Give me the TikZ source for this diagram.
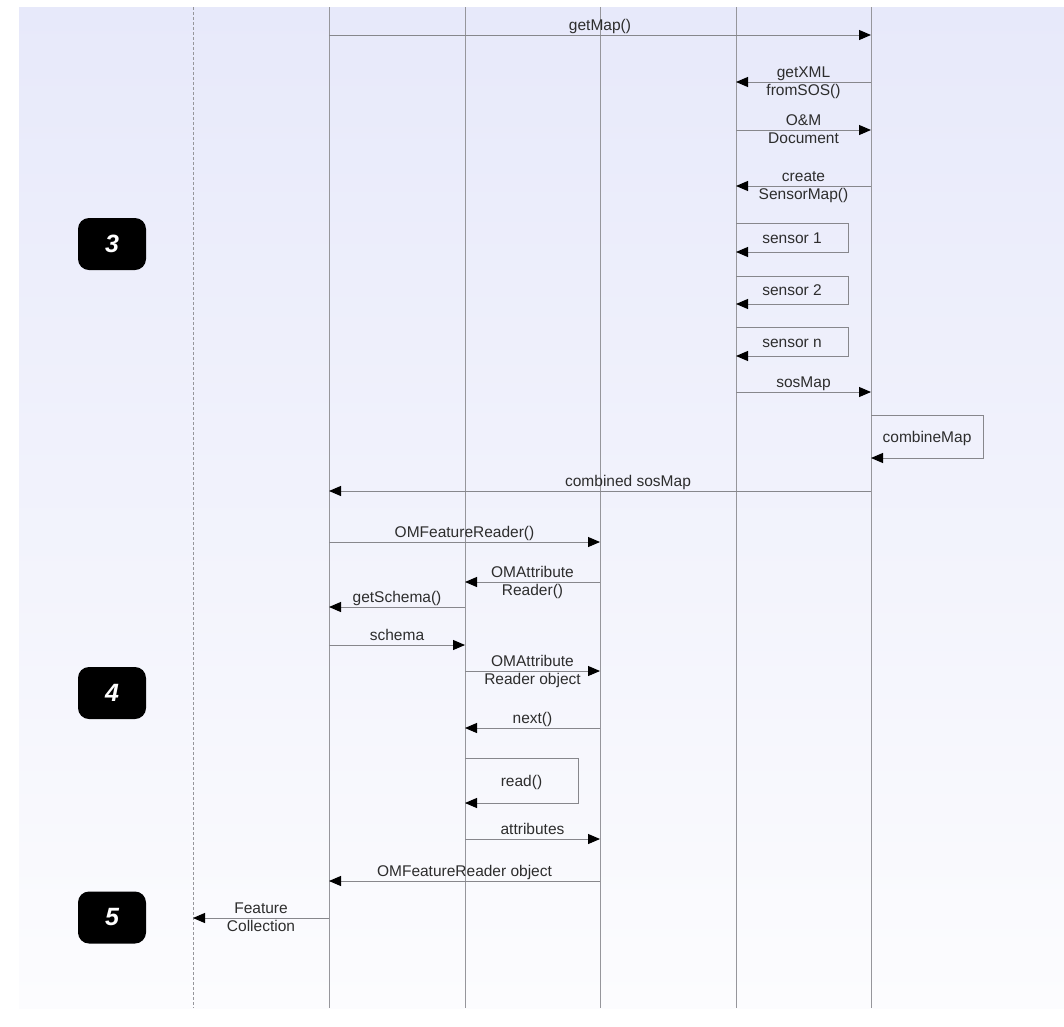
\documentclass[tikz,border=0pt]{standalone}
\usepackage{fontspec}
\setmainfont{Liberation Sans}
\usetikzlibrary{arrows.meta}
\definecolor{bgtop}{RGB}{231,233,250}
\definecolor{bgbot}{RGB}{252,252,254}
\definecolor{linegray}{RGB}{135,135,140}
\definecolor{lifegray}{RGB}{150,150,155}
\definecolor{txt}{RGB}{45,45,45}
\tikzset{
  lifeline/.style={draw=lifegray, line width=1pt},
  actorline/.style={draw=lifegray, line width=0.9pt, dash pattern=on 3pt off 2pt},
  msg/.style={draw=linegray, line width=1pt, -{Triangle[length=12pt,width=10pt,color=black]}},
  lbl/.style={font=\fontsize{15.5}{18}\selectfont, text=txt, inner sep=0pt, anchor=base},
  badge/.style={fill=black, rounded corners=11pt, minimum width=68pt, minimum height=52pt,
    inner sep=0pt, text=white, font=\fontsize{25}{25}\selectfont\bfseries\itshape}
}
% one-line message: name, from x, to x, y, label
\newcommand\MsgA[5]{%
  \coordinate (#1a) at (#2,#4);
  \coordinate (#1b) at (#3,#4);
  \draw[msg] (#1a) -- (#1b) node[lbl, midway, yshift=5pt]{#5};
}
% two-line message: name, from x, to x, y, line above, line below
\newcommand\MsgB[6]{%
  \coordinate (#1a) at (#2,#4);
  \coordinate (#1b) at (#3,#4);
  \draw[msg] (#1a) -- (#1b) node[lbl, midway, yshift=5pt]{#5} node[lbl, midway, yshift=-13.5pt]{#6};
}
% self message: name, x, top y, bottom y, right x, label
\newcommand\SelfMsg[6]{%
  \coordinate (#1a) at (#2,#3);
  \coordinate (#1b) at (#2,#4);
  \coordinate (#1c) at (#5,#4);
  \draw[msg] (#1a) -| (#1c) -- (#1b);
  \node[lbl] (#1l) at ({(#2+#5)/2},{(#3+#4)/2+5.5}) {#6};
}
\begin{document}
\begin{tikzpicture}[x=1pt,y=-1pt]
\useasboundingbox (0,0) rectangle (1064,1026);
\shade[top color=bgtop, bottom color=bgbot] (19,7) rectangle (1064,1008);

% lifelines
\foreach \n/\x in {1/329,2/465,3/600,4/736,5/871}{
  \coordinate (L\n t) at (\x,7);
  \coordinate (L\n b) at (\x,1008);
  \draw[lifeline] (L\n t) -- (L\n b);
}
\coordinate (L0t) at (193,7);
\coordinate (L0b) at (193,1008);
\draw[actorline] (L0t) -- (L0b);

% badges
\node[badge] (b3) at (112,244) {3};
\node[badge] (b4) at (112,693) {4};
\node[badge] (b5) at (112,917.5) {5};

% messages
\MsgA{m1}{329}{871}{35}{getMap()}
\MsgB{m2}{871}{736}{82}{getXML}{fromSOS()}
\MsgB{m3}{736}{871}{130}{O\&M}{Document}
\MsgB{m4}{871}{736}{186}{create}{SensorMap()}
\SelfMsg{s1}{736}{223}{252}{848}{sensor 1}
\SelfMsg{s2}{736}{276}{304}{848}{sensor 2}
\SelfMsg{s3}{736}{327}{356}{848}{sensor n}
\MsgA{m5}{736}{871}{392}{sosMap}
\SelfMsg{s4}{871}{415}{458}{983}{combineMap}
\coordinate (m6a) at (871,491);
\coordinate (m6b) at (329,491);
\draw[msg] (m6a) -- (m6b) node[lbl, midway, yshift=5pt, xshift=28pt]{combined sosMap};
\MsgA{m7}{329}{600}{542}{OMFeatureReader()}
\MsgB{m8}{600}{465}{582}{OMAttribute}{Reader()}
\MsgA{m9}{465}{329}{607}{getSchema()}
\MsgA{m10}{329}{465}{645}{schema}
\MsgB{m11}{465}{600}{671}{OMAttribute}{Reader object}
\MsgA{m12}{600}{465}{728}{next()}
\SelfMsg{s5}{465}{758}{803}{578}{read()}
\MsgA{m13}{465}{600}{839}{attributes}
\MsgA{m14}{600}{329}{881}{OMFeatureReader object}
\MsgB{m15}{329}{193}{918}{Feature}{Collection}
\end{tikzpicture}
\end{document}
